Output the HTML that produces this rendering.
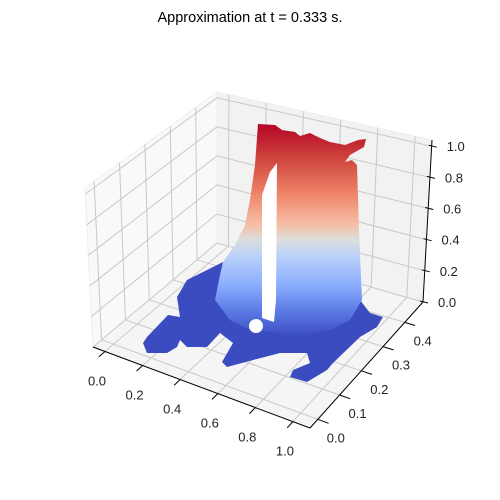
<!DOCTYPE html>
<html><head><meta charset="utf-8"><style>
body{margin:0;background:#fff}
svg{display:block;font-family:"Liberation Sans",sans-serif}
</style></head><body>
<svg id="c" width="500" height="500" viewBox="0 0 500 500">
<text x="250" y="22" text-anchor="middle" font-size="14.5" fill="#000">Approximation at t = 0.333 s.</text>
<g id="panes"></g>
<g id="grid"></g>
<g id="surf">
<defs><linearGradient id="cw" gradientUnits="userSpaceOnUse" x1="0" y1="124" x2="0" y2="335">
<stop offset="0" stop-color="#b40426"/><stop offset="0.15" stop-color="#cc403a"/>
<stop offset="0.33" stop-color="#ee8468"/><stop offset="0.48" stop-color="#f5c0a7"/>
<stop offset="0.55" stop-color="#dcdddd"/><stop offset="0.63" stop-color="#b9d0f9"/>
<stop offset="0.76" stop-color="#8caffe"/><stop offset="0.88" stop-color="#5e7de7"/>
<stop offset="1" stop-color="#3d50c3"/></linearGradient></defs>
<polygon fill="#3b4cc0" points="147,353 143,343 147,337 168,315 180,317 177,297 187,280 213,267 223,262 360,300 370,313 383,317 377,327 360,337 333,363 327,370 307,382 290,377 293,370 310,363 307,353 280,353 253,360 227,367 222,362 233,343 220,333 207,347 187,347 180,340 177,347 167,353"/>
<polygon fill="url(#cw)" points="223,262 235,245 245,225 250,200 255,165 258,124 275,125 282,130 295,132 300,136 310,133 320,138 330,142 345,145 358,140 366,139 364,147 350,155 345,162 352,160 357,165 359,230 362,300 350,320 330,330 300,335 270,332 250,330 230,320 215,300 220,275"/>
<polygon fill="#ffffff" points="262,195 270,172 277,163 276,300 274,322 268,320 262,318 262,250"/>
<ellipse cx="256" cy="326" rx="7" ry="7" fill="#ffffff"/>
</g>
<g id="axes"></g>
</svg>
<script>
const xTicks=[0,0.2,0.4,0.6,0.8,1.0];
const xTickLabels=["0.0","0.2","0.4","0.6","0.8","1.0"];
const yTicks=[0,0.1,0.2,0.3,0.4];
const yTickLabels=["0.0","0.1","0.2","0.3","0.4"];
const zTicks=[0,0.2,0.4,0.6,0.8,1.0];
const zTickLabels=["0.0","0.2","0.4","0.6","0.8","1.0"];
const xLim=[-0.064,1.091];
const yLim=[-0.036,0.484];
const zLim=[0,1.04];
const NS="http://www.w3.org/2000/svg";
const A=[93,347],B=[310,428],C=[423,302],D=[217,243];
const OA=[-8,-159],OB=[0,-170],OC=[9,-162],OD=[0,-151];
function bil(p,q,r,s,u,v){return[(1-u)*(1-v)*p[0]+u*(1-v)*q[0]+u*v*r[0]+(1-u)*v*s[0],(1-u)*(1-v)*p[1]+u*(1-v)*q[1]+u*v*r[1]+(1-u)*v*s[1]];}
function P(u,v,w){const f=bil(A,B,C,D,u,v),o=bil(OA,OB,OC,OD,u,v);return[f[0]+o[0]*w,f[1]+o[1]*w];}
const sx=x=>(x-xLim[0])/(xLim[1]-xLim[0]);
const sy=y=>(y-yLim[0])/(yLim[1]-yLim[0]);
const sz=z=>(z-zLim[0])/(zLim[1]-zLim[0]);
function el(g,tag,at){const e=document.createElementNS(NS,tag);for(const k in at)e.setAttribute(k,at[k]);document.getElementById(g).appendChild(e);return e;}
function pts(a){return a.map(p=>p[0].toFixed(1)+","+p[1].toFixed(1)).join(" ");}
let e;
e=el("panes","polygon",{points:pts([P(0,0,0),P(0,1,0),P(0,1,1),P(0,0,1)]),fill:"#f9f9f9",stroke:"#eeeeee"});


e=el("panes","polygon",{points:pts([P(0,1,0),P(1,1,0),P(1,1,1),P(0,1,1)]),fill:"#f2f2f2",stroke:"#eeeeee"});


e=el("panes","polygon",{points:pts([P(0,0,0),P(1,0,0),P(1,1,0),P(0,1,0)]),fill:"#f5f5f5",stroke:"#eeeeee"});


const gs={stroke:"#c8c8c8","stroke-width":"1",fill:"none"};
function line(g,pl,st){return el(g,"polyline",Object.assign({points:pts(pl)},st));}
xTicks.forEach((t,i)=>{const u=sx(t);
 e=line("grid",[P(u,0,0),P(u,1,0),P(u,1,1)],gs);
 
 
 e=line("axes",[P(u,0,0),P(u,-0.05,0)],{stroke:"#000","stroke-width":"1"});
 
 
 const p=P(u,0,0);
 e=el("axes","text",{x:(p[0]-8).toFixed(1),y:(p[1]+34).toFixed(1),"text-anchor":"middle","font-size":"13",fill:"#222"});
 e.textContent=xTickLabels[i];
 
 
});
yTicks.forEach((t,i)=>{const v=sy(t);
 e=line("grid",[P(1,v,0),P(0,v,0),P(0,v,1)],gs);
 
 
 e=line("axes",[P(1,v,0),P(1.05,v,0)],{stroke:"#000","stroke-width":"1"});
 
 
 const p=P(1,v,0);
 e=el("axes","text",{x:(p[0]+18).toFixed(1),y:(p[1]+23).toFixed(1),"text-anchor":"middle","font-size":"13",fill:"#222"});
 e.textContent=yTickLabels[i];
 
 
});
zTicks.forEach((t,i)=>{const w=sz(t);
 e=line("grid",[P(0,0,w),P(0,1,w),P(1,1,w)],gs);
 
 
 const p=P(1,1,w);
 e=line("axes",[[p[0]-3,p[1]-1],[p[0]+5,p[1]+1]],{stroke:"#000","stroke-width":"1"});
 
 
 e=el("axes","text",{x:(p[0]+15).toFixed(1),y:(p[1]+5).toFixed(1),"text-anchor":"start","font-size":"13",fill:"#222"});
 e.textContent=zTickLabels[i];
 
 
});
e=line("axes",[P(0,0,0),P(1,0,0),P(1,1,0)],{stroke:"#000","stroke-width":"1",fill:"none"});


e=line("axes",[P(1,1,0),P(1,1,1)],{stroke:"#000","stroke-width":"1",fill:"none"});


</script>
</body></html>
